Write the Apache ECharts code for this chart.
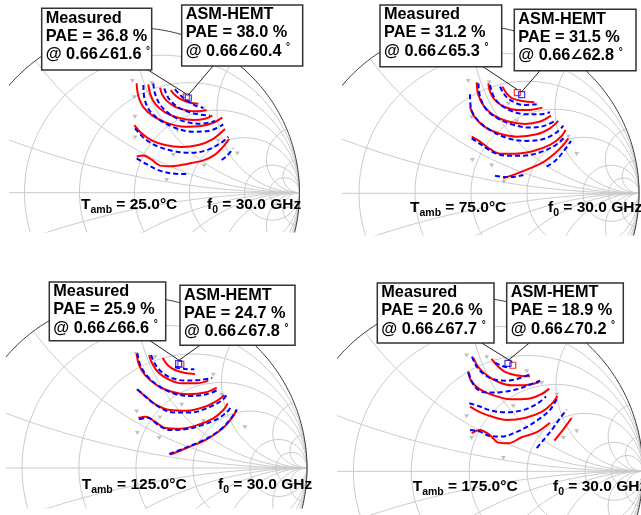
<!DOCTYPE html>
<html><head><meta charset="utf-8">
<script src="https://cdn.jsdelivr.net/npm/echarts@6/dist/echarts.min.js"></script>
<style>html,body{margin:0;padding:0;background:#fff}#c{width:641px;height:515px}</style>
</head><body><div id="c"></div>
<script>
// ---------------- data ----------------
const temps = [25.0, 75.0, 125.0, 175.0];
const freqGHz = 30.0;
const peakMag = 0.66;
const measPAE = [36.8, 31.2, 25.9, 20.6];
const measAng = [61.6, 65.3, 66.6, 67.7];
const modelPAE = [38.0, 31.5, 24.7, 18.9];
const modelAng = [60.4, 62.8, 67.8, 70.2];
const rCircles = [0.2, 0.5, 1, 2, 5, 10];
const xArcs = [0.2, 0.5, 1, 2, 5, 10];

// contours as reflection coefficient [Re, Im]
const p1Measured = [
 [[0.219,0.622],[0.250,0.588],[0.286,0.564],[0.332,0.547],[0.387,0.539]],
 [[0.155,0.636],[0.169,0.592],[0.201,0.552],[0.249,0.519],[0.316,0.499],[0.383,0.493],[0.437,0.501]],
 [[0.084,0.657],[0.096,0.596],[0.128,0.535],[0.185,0.487],[0.262,0.455],[0.357,0.440],[0.427,0.448],[0.472,0.467]],
 [[0.013,0.663],[0.023,0.588],[0.056,0.515],[0.120,0.459],[0.205,0.420],[0.306,0.400],[0.403,0.404],[0.478,0.424],[0.532,0.455]],
 [[-0.001,0.410],[0.043,0.360],[0.104,0.317],[0.185,0.289],[0.286,0.277],[0.387,0.289],[0.472,0.323],[0.548,0.386]],
 [[0.013,0.220],[0.054,0.226],[0.104,0.200],[0.155,0.164],[0.225,0.160],[0.326,0.176],[0.417,0.196],[0.484,0.228],[0.532,0.273],[0.573,0.325]]
];
const p1Model = [
 [[0.245,0.628],[0.276,0.592],[0.322,0.556],[0.371,0.527],[0.417,0.515]],
 [[0.181,0.632],[0.201,0.582],[0.241,0.535],[0.302,0.499],[0.377,0.477],[0.458,0.467]],
 [[0.114,0.663],[0.124,0.602],[0.157,0.531],[0.215,0.475],[0.296,0.434],[0.397,0.418],[0.488,0.434]],
 [[0.054,0.653],[0.060,0.572],[0.094,0.495],[0.155,0.440],[0.245,0.394],[0.346,0.370],[0.447,0.374],[0.538,0.414]],
 [[0.003,0.390],[0.060,0.329],[0.140,0.281],[0.241,0.251],[0.346,0.242],[0.447,0.261],[0.528,0.305],[0.569,0.339]],
 [[0.013,0.208],[0.068,0.176],[0.144,0.137],[0.225,0.117],[0.316,0.113]],
 [[0.528,0.198],[0.565,0.228],[0.599,0.269]]
];
const p1Points = [[-0.013,0.677],[0.104,0.663],[-0.001,0.578],[0.003,0.461],[0.003,0.335],[0.235,0.228],[0.195,0.077],[0.421,0.164],[0.623,0.238],[0.508,0.315],[0.260,0.376],[0.417,0.509]];

const p2Measured = [
 [[0.187,0.635],[0.212,0.595],[0.246,0.565],[0.302,0.550],[0.377,0.542]],
 [[0.103,0.655],[0.115,0.601],[0.147,0.550],[0.202,0.514],[0.282,0.496],[0.361,0.498],[0.425,0.510]],
 [[0.034,0.661],[0.044,0.585],[0.079,0.516],[0.139,0.462],[0.222,0.427],[0.321,0.413],[0.411,0.427],[0.476,0.462]],
 [[-0.006,0.516],[0.020,0.456],[0.079,0.397],[0.163,0.357],[0.272,0.337],[0.391,0.351],[0.470,0.387],[0.520,0.431]],
 [[0.004,0.337],[0.054,0.308],[0.113,0.264],[0.173,0.236],[0.262,0.236],[0.371,0.252],[0.470,0.288],[0.536,0.337],[0.563,0.377]],
 [[0.192,0.089],[0.272,0.117],[0.361,0.153],[0.440,0.192],[0.500,0.238],[0.550,0.288],[0.579,0.327]]
];
const p2Model = [
 [[0.173,0.635],[0.198,0.589],[0.242,0.550],[0.312,0.526],[0.391,0.530]],
 [[0.113,0.645],[0.133,0.581],[0.173,0.530],[0.242,0.490],[0.331,0.470],[0.411,0.470],[0.470,0.482]],
 [[0.044,0.655],[0.054,0.575],[0.093,0.496],[0.159,0.446],[0.242,0.411],[0.351,0.391],[0.440,0.403],[0.510,0.437]],
 [[-0.006,0.589],[0.000,0.506],[0.044,0.431],[0.123,0.371],[0.222,0.327],[0.331,0.312],[0.431,0.323],[0.510,0.363],[0.550,0.403]],
 [[0.004,0.327],[0.063,0.288],[0.133,0.244],[0.212,0.224],[0.312,0.224],[0.411,0.244],[0.500,0.284],[0.560,0.337]],
 [[0.143,0.105],[0.202,0.097],[0.262,0.099],[0.312,0.109]],
 [[0.450,0.159],[0.500,0.192],[0.550,0.248],[0.595,0.312]]
];
const p2Points = [[-0.016,0.669],[0.109,0.661],[0.004,0.452],[0.008,0.198],[0.123,0.165],[0.196,0.069],[0.629,0.234],[0.579,0.337],[0.222,0.532],[0.272,0.427]];

const p3Measured = [
 [[0.156,0.643],[0.185,0.602],[0.228,0.573],[0.287,0.556],[0.345,0.550]],
 [[0.076,0.659],[0.096,0.608],[0.131,0.558],[0.189,0.519],[0.267,0.495],[0.355,0.495],[0.423,0.511]],
 [[0.004,0.667],[0.018,0.602],[0.053,0.544],[0.121,0.485],[0.209,0.446],[0.306,0.431],[0.404,0.441],[0.472,0.470]],
 [[0.004,0.460],[0.053,0.421],[0.121,0.368],[0.199,0.339],[0.296,0.335],[0.404,0.359],[0.481,0.398],[0.517,0.427]],
 [[0.014,0.292],[0.057,0.300],[0.111,0.271],[0.170,0.234],[0.257,0.230],[0.365,0.253],[0.452,0.290],[0.511,0.339],[0.536,0.378]],
 [[0.199,0.078],[0.296,0.117],[0.413,0.168],[0.501,0.226],[0.559,0.290],[0.589,0.339]]
];
const p3Model = [
 [[0.228,0.589],[0.283,0.579],[0.341,0.577]],
 [[0.088,0.661],[0.111,0.608],[0.150,0.561],[0.209,0.526],[0.287,0.511],[0.374,0.515],[0.446,0.526]],
 [[0.008,0.671],[0.025,0.602],[0.062,0.542],[0.131,0.480],[0.218,0.437],[0.316,0.421],[0.413,0.431],[0.485,0.460]],
 [[0.010,0.460],[0.060,0.413],[0.131,0.359],[0.209,0.326],[0.316,0.324],[0.413,0.349],[0.501,0.394],[0.530,0.427]],
 [[0.018,0.285],[0.068,0.294],[0.131,0.251],[0.199,0.222],[0.287,0.226],[0.384,0.250],[0.472,0.285],[0.540,0.335],[0.556,0.368]],
 [[0.195,0.082],[0.296,0.121],[0.413,0.172],[0.505,0.234],[0.563,0.300],[0.589,0.343]]
];
const p3Points = [[0.000,0.667],[0.111,0.647],[0.004,0.331],[0.008,0.205],[0.136,0.175],[0.140,0.296],[0.267,0.370],[0.501,0.429],[0.637,0.238],[0.394,0.273],[0.452,0.546]];

const p4Measured = [
 [[0.129,0.647],[0.162,0.607],[0.206,0.572],[0.269,0.553],[0.350,0.547]],
 [[0.024,0.653],[0.053,0.599],[0.101,0.553],[0.168,0.514],[0.245,0.495],[0.331,0.497],[0.404,0.514]],
 [[-0.007,0.576],[0.014,0.516],[0.062,0.472],[0.139,0.438],[0.235,0.415],[0.341,0.418],[0.417,0.445],[0.461,0.476]],
 [[0.005,0.372],[0.058,0.342],[0.129,0.315],[0.216,0.296],[0.321,0.307],[0.417,0.342],[0.475,0.388],[0.508,0.434]],
 [[0.014,0.219],[0.062,0.238],[0.116,0.211],[0.168,0.165],[0.225,0.161],[0.302,0.196],[0.389,0.226],[0.465,0.280]],
 [[0.490,0.177],[0.532,0.228],[0.565,0.273],[0.590,0.307]]
];
const p4Model = [
 [[0.149,0.626],[0.187,0.607],[0.235,0.595]],
 [[0.016,0.660],[0.039,0.610],[0.078,0.564],[0.139,0.530],[0.216,0.522],[0.293,0.537],[0.354,0.560]],
 [[-0.003,0.568],[0.020,0.507],[0.058,0.464],[0.120,0.453],[0.197,0.457],[0.273,0.472],[0.341,0.495],[0.408,0.522]],
 [[0.001,0.392],[0.053,0.376],[0.129,0.349],[0.216,0.340],[0.312,0.353],[0.389,0.388],[0.442,0.430]],
 [[0.005,0.238],[0.058,0.230],[0.120,0.203],[0.187,0.200],[0.264,0.223],[0.341,0.261],[0.408,0.305],[0.465,0.353],[0.504,0.415]],
 [[0.389,0.134],[0.436,0.190],[0.484,0.250],[0.523,0.305],[0.561,0.355]]
];
const p4Points = [[-0.015,0.666],[0.101,0.656],[0.331,0.576],[0.417,0.509],[-0.015,0.317],[0.014,0.192],[0.197,0.077],[0.542,0.192],[0.619,0.230],[0.504,0.441],[0.254,0.374]];

// ---------------- layout ----------------
const FONT = '"Liberation Sans", Arial, "DejaVu Sans", sans-serif';
const panels = [
 {cx:134.5, cy:192.7, R:165,   l:10,  t:0,   r:300, b:232,
  mBox:[41.7,8.3,110,61.7],  sBox:[181.7,5,121,61],   mFrom:[148,70],  sFrom:[213,66],  tamb:[81,205],  f0:[207,205]},
 {cx:471,   cy:193.3, R:168,   l:343, t:0,   r:641, b:235,
  mBox:[380,5,121.7,61.7],   sBox:[514.3,9.3,121.7,61.4], mFrom:[483,66.7], sFrom:[540,70.7], tamb:[410,208], f0:[548,208]},
 {cx:136,   cy:468,   R:171,   l:7,   t:258, r:310, b:508,
  mBox:[49.3,282,116.4,58.7], sBox:[180,285.3,115,60], mFrom:[150,340.7], sFrom:[200,345.3], tamb:[81.7,484.7], f0:[218,484.7]},
 {cx:469.2, cy:471.3, R:173.7, l:338, t:258, r:641, b:515,
  mBox:[377.3,283,116.7,60], sBox:[506.7,283,116.6,60], mFrom:[481.7,343], sFrom:[529.3,343], tamb:[412.7,487], f0:[553,487]}
];
const measuredSets = [p1Measured, p2Measured, p3Measured, p4Measured];
const modelSets = [p1Model, p2Model, p3Model, p4Model];
const pointSets = [p1Points, p2Points, p3Points, p4Points];

function arcPts(cx, cy, rad, a0, a1, n) {
  const pts = [];
  for (let k = 0; k <= n; k++) { const a = a0 + (a1 - a0) * k / n; pts.push([cx + rad * Math.cos(a), cy + rad * Math.sin(a)]); }
  return pts;
}
function smithLines() {
  const lines = [];
  rCircles.forEach(r => lines.push(arcPts(r / (1 + r), 0, 1 / (1 + r), 0, 2 * Math.PI, 200)));
  xArcs.forEach(x => {
    const k = 1 / x, px = (x * x - 1) / (x * x + 1), py = 2 * x / (x * x + 1);
    let th = Math.atan2(py - k, px - 1);
    while (th > -Math.PI / 2) th -= 2 * Math.PI;
    const up = arcPts(1, k, k, -Math.PI / 2, th, 160);
    lines.push(up); lines.push(up.map(p => [p[0], -p[1]]));
  });
  lines.push([[-1, 0], [1, 0]]);
  return lines;
}
const gridLines = smithLines();
const polar = (m, a) => [m * Math.cos(a * Math.PI / 180), m * Math.sin(a * Math.PI / 180)];

const grid = [], xAxis = [], yAxis = [], series = [];
panels.forEach((p, i) => {
  grid.push({left: p.l, top: p.t, width: p.r - p.l, height: p.b - p.t, show: false});
  xAxis.push({type: 'value', gridIndex: i, show: false, min: (p.l - p.cx) / p.R, max: (p.r - p.cx) / p.R});
  yAxis.push({type: 'value', gridIndex: i, show: false, min: (p.cy - p.b) / p.R, max: (p.cy - p.t) / p.R});
  const base = {xAxisIndex: i, yAxisIndex: i, silent: true, animation: false};
  gridLines.forEach(d => series.push(Object.assign({type: 'line', data: d, symbol: 'none', z: 1,
    lineStyle: {color: '#cacaca', width: 1}}, base)));
  series.push(Object.assign({type: 'line', data: arcPts(0, 0, 1, 0, 2 * Math.PI, 360), symbol: 'none', z: 2,
    lineStyle: {color: '#3a3a3a', width: 1}}, base));
  series.push(Object.assign({type: 'scatter', data: pointSets[i], symbol: 'triangle', symbolRotate: 180,
    symbolSize: [5, 4], itemStyle: {color: '#b0b0b0'}, z: 3}, base));
  measuredSets[i].forEach(d => series.push(Object.assign({type: 'line', data: d, symbol: 'none', smooth: 0.35, z: 4,
    lineStyle: {color: '#ff0000', width: 2}}, base)));
  modelSets[i].forEach(d => series.push(Object.assign({type: 'line', data: d, symbol: 'none', smooth: 0.35, z: 5,
    lineStyle: {color: '#0000ff', width: 2, type: [5, 3]}}, base)));
  series.push(Object.assign({type: 'scatter', data: [polar(peakMag, measAng[i])], symbol: 'rect', symbolSize: 6, z: 6,
    itemStyle: {color: 'rgba(0,0,0,0)', borderColor: '#ff0000', borderWidth: 1.2}}, base));
  series.push(Object.assign({type: 'scatter', data: [polar(peakMag, modelAng[i])], symbol: 'rect', symbolSize: 6, z: 7,
    itemStyle: {color: 'rgba(0,0,0,0)', borderColor: '#0000ff', borderWidth: 1.2}}, base));
});

const chart = echarts.init(document.getElementById('c'), null, {renderer: 'canvas', width: 641, height: 515});
chart.setOption({backgroundColor: '#fff', animation: false, grid, xAxis, yAxis, series});

const richMain = {fontSize: 16.3, fontWeight: 'bold', fontFamily: FONT, lineHeight: 18};
const richAng = {fontSize: 13.5, fontWeight: 'bold', fontFamily: '"DejaVu Sans", sans-serif', lineHeight: 18};
const richDeg = {fontSize: 10, fontWeight: 'bold', fontFamily: FONT, lineHeight: 10, verticalAlign: 'top'};
const richLab = {fontSize: 15.5, fontWeight: 'bold', fontFamily: FONT, lineHeight: 22};
const richSub = {fontSize: 10.5, fontWeight: 'bold', fontFamily: FONT, lineHeight: 11, verticalAlign: 'bottom'};

function boxGraphics(b, title, pae, ang) {
  const [x, y, w, h] = b;
  const els = [{type: 'rect', shape: {x, y, width: w, height: h}, style: {fill: '#fff', stroke: '#333', lineWidth: 1.5}, z: 100}];
  const lines = [
    '{n|' + title + '}',
    '{n|PAE = ' + pae.toFixed(1) + ' %}',
    '{n|@ ' + peakMag.toFixed(2) + '}{g|\u2220}{n|' + ang.toFixed(1) + ' }{d|\u00b0}'
  ];
  [10, 28, 46.5].forEach((dy, k) => els.push({type: 'text', x: x + 4, y: y + dy, z: 101,
    style: {text: lines[k], rich: {n: richMain, g: richAng, d: richDeg}, fill: '#000', verticalAlign: 'middle', align: 'left'}}));
  return els;
}

const graphic = [];
panels.forEach((p, i) => {
  const mp = chart.convertToPixel({gridIndex: i}, polar(peakMag, measAng[i]));
  const sp = chart.convertToPixel({gridIndex: i}, polar(peakMag, modelAng[i]));
  graphic.push({type: 'line', shape: {x1: p.mFrom[0], y1: p.mFrom[1], x2: mp[0], y2: mp[1] - 3}, style: {stroke: '#222', lineWidth: 1}, z: 99});
  graphic.push({type: 'line', shape: {x1: p.sFrom[0], y1: p.sFrom[1], x2: sp[0], y2: sp[1] - 3}, style: {stroke: '#222', lineWidth: 1}, z: 99});
  graphic.push(...boxGraphics(p.mBox, 'Measured', measPAE[i], measAng[i]));
  graphic.push(...boxGraphics(p.sBox, 'ASM-HEMT', modelPAE[i], modelAng[i]));
  graphic.push({type: 'text', x: p.tamb[0], y: p.tamb[1], z: 101,
    style: {text: '{a|T}{s|amb}{a| = ' + temps[i].toFixed(1) + '\u00b0C}', rich: {a: richLab, s: richSub}, fill: '#000', verticalAlign: 'middle'}});
  graphic.push({type: 'text', x: p.f0[0], y: p.f0[1], z: 101,
    style: {text: '{a|f}{s|0}{a| = ' + freqGHz.toFixed(1) + ' GHz}', rich: {a: richLab, s: richSub}, fill: '#000', verticalAlign: 'middle'}});
});
chart.setOption({graphic});
</script></body></html>
